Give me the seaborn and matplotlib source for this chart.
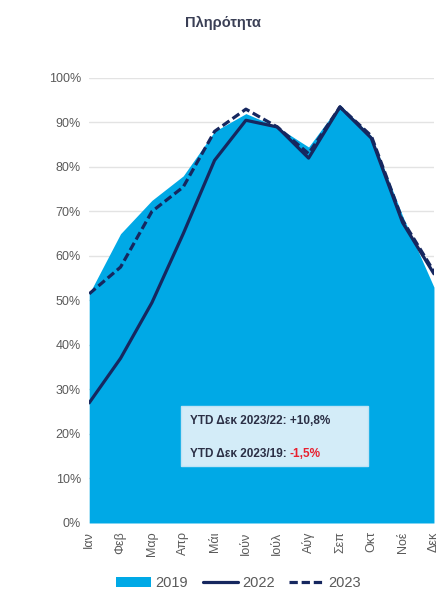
import matplotlib.pyplot as plt
import pandas as pd
import seaborn as sns
from matplotlib.lines import Line2D
from matplotlib.patches import Patch
from matplotlib.ticker import PercentFormatter

# Δεδομένα πληρότητας ανά μήνα (%)
MONTHS = ["Ιαν", "Φεβ", "Μαρ", "Απρ", "Μάι", "Ιούν", "Ιούλ", "Αύγ", "Σεπ", "Οκτ", "Νοέ", "Δεκ"]
OCC_2019 = [51.5, 65, 72.5, 78, 88, 92, 89, 84.5, 94, 87, 69, 53]
OCC_2022 = [27, 37, 49.5, 65, 81.5, 90.5, 89, 82, 93.5, 86.5, 67.5, 56]
OCC_2023 = [51.5, 57.5, 70, 75.5, 88, 93, 89, 83, 93.5, 87, 68, 56.5]

FILL_COLOR = "#00a9e6"
LINE_COLOR = "#16275f"
TEXT_COLOR = "#5a5a5a"
DASH = (0, (2.6, 1.2))

sns.set_theme(style="white")
plt.rcParams["font.family"] = ["Liberation Sans", "DejaVu Sans"]

df = pd.DataFrame({"x": range(len(MONTHS)), "y2019": OCC_2019, "y2022": OCC_2022, "y2023": OCC_2023})

fig = plt.figure(figsize=(4.46, 6.07), dpi=100)
ax = fig.add_axes([0.2, 0.1384, 0.773, 0.7331])

ax.fill_between(df["x"], 0, df["y2019"], color=FILL_COLOR, linewidth=0, zorder=2)
sns.lineplot(data=df, x="x", y="y2022", ax=ax, color=LINE_COLOR, linewidth=2.3, zorder=3)
sns.lineplot(data=df, x="x", y="y2023", ax=ax, color=LINE_COLOR, linewidth=2.3, linestyle=DASH, zorder=4)

ax.set_xlim(0, len(MONTHS) - 1)
ax.set_ylim(0, 100)
ax.set_yticks(range(0, 101, 10))
ax.yaxis.set_major_formatter(PercentFormatter(decimals=0))
ax.set_xticks(df["x"])
ax.set_xticklabels(MONTHS, rotation=90)
ax.tick_params(axis="both", colors=TEXT_COLOR, labelsize=9, length=0, pad=6)
ax.grid(axis="y", color="#e3e3e3", linewidth=1, zorder=0)
ax.set_axisbelow(True)
for s in ax.spines.values():
    s.set_visible(False)
ax.set_xlabel("")
ax.set_ylabel("")

fig.text(0.5, 0.963, "Πληρότητα", ha="center", va="center", fontsize=10.5, fontweight="bold", color="#3a3f55")

# Πλαίσιο με YTD σχόλια
box = plt.Rectangle((0.406, 0.232), 0.419, 0.0988, transform=fig.transFigure, facecolor="#d3ecf8",
                    edgecolor="#bfe3f5", linewidth=1, zorder=5)
fig.add_artist(box)
fig.text(0.425, 0.296, "YTD Δεκ 2023/22: +10,8%", fontsize=8.5, fontweight="bold", color="#2b2f45",
         va="bottom", zorder=6)
t2 = fig.text(0.425, 0.242, "YTD Δεκ 2023/19: ", fontsize=8.5, fontweight="bold", color="#2b2f45",
              va="bottom", zorder=6)
red = ax.annotate("-1,5%", xy=(1, 0), xycoords=t2, va="bottom", fontsize=8.5, fontweight="bold",
                  color="#e8202f", zorder=6, annotation_clip=False)
red.remove()
fig.add_artist(red)

handles = [
    Patch(facecolor=FILL_COLOR, edgecolor="none"),
    Line2D([], [], color=LINE_COLOR, linewidth=2.3),
    Line2D([], [], color=LINE_COLOR, linewidth=2.3, linestyle=DASH),
]
fig.legend(handles, ["2019", "2022", "2023"], loc="center", bbox_to_anchor=(0.535, 0.04), ncol=3,
           frameon=False, fontsize=10.5, handlelength=2.4, columnspacing=1.0, handletextpad=0.3,
           labelcolor=TEXT_COLOR)

fig.savefig("out.png", dpi=100)
